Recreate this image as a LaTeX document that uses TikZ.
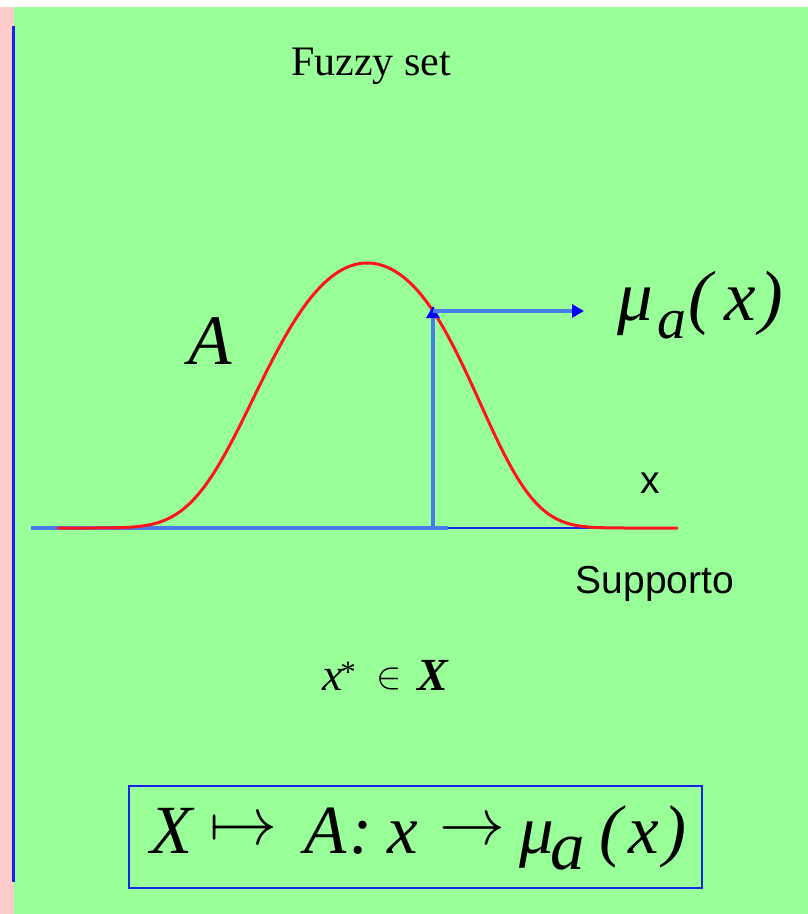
\documentclass[tikz,border=0pt]{standalone}
\usepackage{fontspec}
\usepackage{graphicx}
\setmainfont{Liberation Serif}
\setsansfont{Liberation Sans}
\usetikzlibrary{arrows.meta}
\definecolor{bggreen}{RGB}{153,255,153}
\definecolor{pinkstrip}{RGB}{255,204,204}
\definecolor{lineblue}{RGB}{72,124,236}
\definecolor{deepblue}{RGB}{20,36,232}
\definecolor{curvered}{RGB}{255,20,30}
\newcommand{\bigit}{\fontsize{69}{80}\selectfont\itshape}
\newcommand{\upit}{\fontsize{71}{80}\selectfont\itshape}
\newcommand{\midit}{\fontsize{46}{54}\selectfont\itshape}
\begin{document}
\begin{tikzpicture}[x=1pt,y=-1pt,
  g/.style={inner sep=0pt, outer sep=0pt, anchor=base},
  gc/.style={inner sep=0pt, outer sep=0pt, anchor=center},
  blueline/.style={lineblue, line width=3.2pt},
  tipblue/.style={-{Triangle[length=12pt,width=13pt,color=blue]}},
  membership/.style={curvered, line width=3pt, line cap=round}]
\useasboundingbox (0,0) rectangle (808,914);
\fill[white] (0,0) rectangle (808,914);
\fill[pinkstrip] (0,7) rectangle (14,914);
\fill[bggreen] (14,7) rectangle (808,914);
\draw[deepblue, line width=3pt] (13.5,26) -- (13.5,882);

% title
\node[g, font=\fontsize{42}{50}\selectfont] (title) at (371,75) {Fuzzy set};

% axis
\coordinate (axL) at (31,528);
\coordinate (axM) at (448,528);
\coordinate (axR) at (677,528);
\draw[blueline] (axL) -- (axM);
\draw[deepblue, line width=2.6pt] (axM) -- (axR);

% membership curve (left and right halves)
\draw[membership] plot[domain=-309:0, samples=90, smooth]
  ({367+\x}, {528-265*exp(-0.411*(\x/100)*(\x/100)-0.11*(\x/100)*(\x/100)*(\x/100)*(\x/100))});
\draw[membership] plot[domain=0:310, samples=90, smooth]
  ({367+\x}, {528-265*exp(-0.393*(\x/100)*(\x/100)-0.1517*(\x/100)*(\x/100)*(\x/100)*(\x/100))});

% arrows
\coordinate (xstar) at (433,528);
\coordinate (hit) at (433,311);
\coordinate (hitv) at (433,306);
\coordinate (out) at (584,311);
\draw[blueline, tipblue] (xstar) -- (hitv);
\draw[blueline, tipblue] (hit) -- (out);

% label A
\node[g, font=\fontsize{71}{80}\selectfont\itshape] (setA) at (210,364) {A};

% mu_a(x) upper
\node[g, font=\upit] (m1) at (635,320) {μ};
\node[g, font=\fontsize{58}{66}\selectfont\itshape] (m2) at (672,338) {a};
\node[g, font=\upit] (m3) at (700,320) {(};
\node[g, font=\upit] (m4) at (740,320) {x};
\node[g, font=\upit] (m5) at (771,320) {)};

% x and Supporto
\node[g, font=\sffamily\fontsize{39}{46}\selectfont] (xlab) at (650,493) {x};
\node[g, font=\sffamily\fontsize{39}{46}\selectfont] (supp) at (655,593) {Supporto};

% x* in X
\node[g, font=\midit] (s1) at (332.5,690) {x};
\node[g, font=\fontsize{31}{36}\selectfont] (s2) at (348,682) {*};
\node[gc] (s3) at (389,679) {\scalebox{3.8}{$\in$}};
\node[g, font=\fontsize{46}{54}\selectfont\bfseries\itshape] (s4) at (432.5,690) {X};

% boxed formula
\node[draw=deepblue, line width=2pt, minimum width=573pt, minimum height=102pt, inner sep=0pt] (box) at (415.5,837) {};
\node[g, font=\bigit] (b1) at (171.5,853) {X};
\node[gc] (b2) at (243.5,832) {\scalebox{6.8}{$\mapsto$}};
\node[g, font=\bigit] (b3) at (325.5,853) {A};
\node[g, font=\bigit] (b4) at (361,853) {:};
\node[g, font=\bigit] (b5) at (403,853) {x};
\node[gc] (b6) at (472.5,832) {\scalebox{6.6}{$\rightarrow$}};
\node[g, font=\bigit] (b7) at (537,853) {μ};
\node[g, font=\bigit] (b8) at (568,869) {a};
\node[g, font=\bigit] (b9) at (610.5,853) {(};
\node[g, font=\bigit] (b10) at (643.5,853) {x};
\node[g, font=\bigit] (b11) at (674.5,853) {)};
\end{tikzpicture}
\end{document}
